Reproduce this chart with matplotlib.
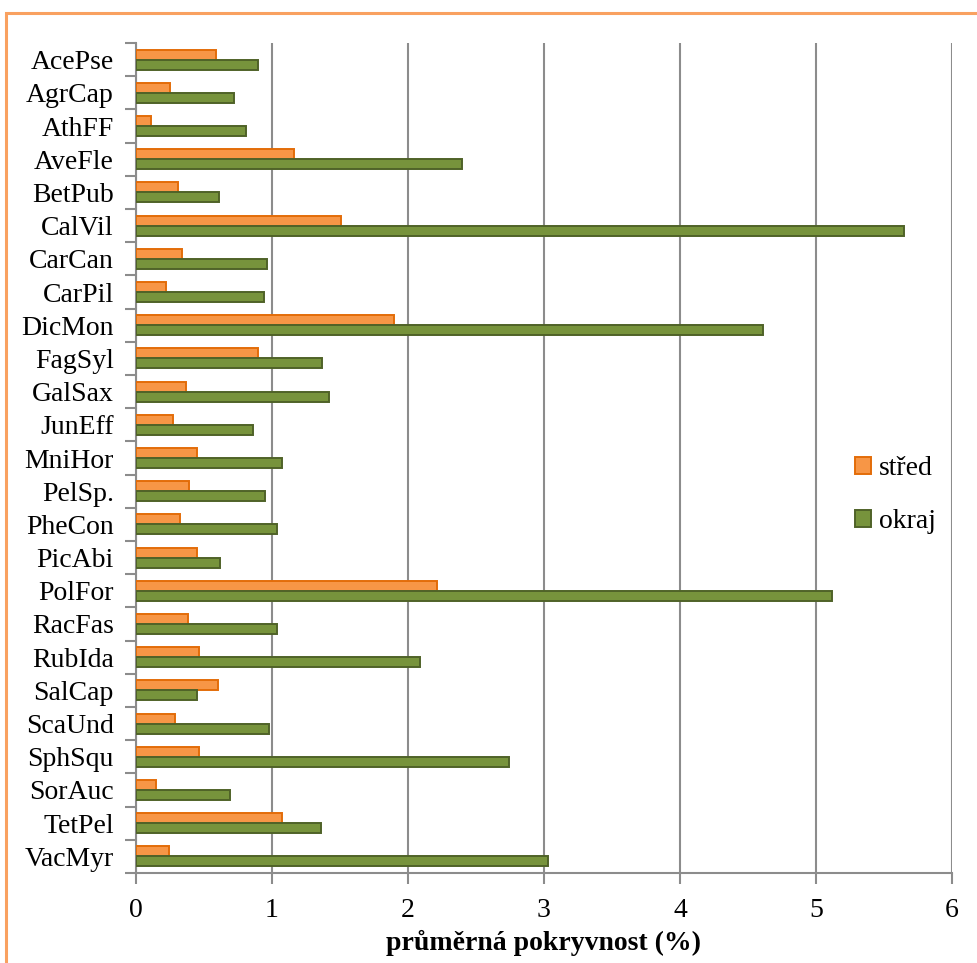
import matplotlib
matplotlib.use("Agg")
import matplotlib.pyplot as plt
import numpy as np
from matplotlib.patches import Rectangle

species = ["AcePse", "AgrCap", "AthFF", "AveFle", "BetPub", "CalVil", "CarCan",
           "CarPil", "DicMon", "FagSyl", "GalSax", "JunEff", "MniHor", "PelSp.",
           "PheCon", "PicAbi", "PolFor", "RacFas", "RubIda", "SalCap", "ScaUnd",
           "SphSqu", "SorAuc", "TetPel", "VacMyr"]
stred = [0.59, 0.25, 0.11, 1.16, 0.31, 1.51, 0.34, 0.22, 1.90, 0.90, 0.37, 0.27,
         0.45, 0.39, 0.32, 0.45, 2.21, 0.38, 0.46, 0.60, 0.29, 0.46, 0.15, 1.07, 0.24]
okraj = [0.90, 0.72, 0.81, 2.40, 0.61, 5.65, 0.96, 0.94, 4.61, 1.37, 1.42, 0.86,
         1.07, 0.95, 1.04, 0.62, 5.12, 1.04, 2.09, 0.45, 0.98, 2.74, 0.69, 1.36, 3.03]
x_ticks = [0, 1, 2, 3, 4, 5, 6]
x_label = "průměrná pokryvnost (%)"

plt.rcParams["font.family"] = ["Liberation Serif", "DejaVu Serif"]

fig = plt.figure(figsize=(9.77, 9.63), dpi=100)
ax = fig.add_axes([0.1392, 0.0935, 0.8352, 0.8618])

# orange frame around the chart area
fig.patches.append(Rectangle((6 / 977, -0.05), 1.2, 1 - 13 / 963 + 0.05,
                             transform=fig.transFigure, fill=False,
                             edgecolor="#F9A160", linewidth=2.2, zorder=0))

y = np.arange(len(species))
h = 0.3
ax.barh(y - h / 2, stred, height=h, color="#F79646", edgecolor="#E36C09",
        linewidth=1.4, label="střed", zorder=3)
ax.barh(y + h / 2, okraj, height=h, color="#77933C", edgecolor="#4F6228",
        linewidth=1.4, label="okraj", zorder=3)

ax.set_xlim(0, 6)
ax.set_ylim(len(species) - 0.5, -0.5)
ax.set_xticks(x_ticks)
ax.set_xticklabels([str(t) for t in x_ticks], fontsize=20)
ax.set_yticks(y)
ax.set_yticklabels(species, fontsize=20)
ax.set_yticks(np.arange(-0.5, len(species), 1), minor=True)
ax.tick_params(axis="y", which="major", length=0, pad=16)
ax.tick_params(axis="y", which="minor", length=8, width=1.5, color="#8C8C8C")
ax.tick_params(axis="x", length=8, width=1.5, color="#8C8C8C", pad=10)

ax.grid(axis="x", color="#8C8C8C", linewidth=1.5, zorder=0)
ax.set_axisbelow(True)
for s in ["top", "right"]:
    ax.spines[s].set_visible(False)
for s in ["left", "bottom"]:
    ax.spines[s].set_color("#8C8C8C")
    ax.spines[s].set_linewidth(1.5)

ax.set_xlabel(x_label, fontsize=20, fontweight="bold", labelpad=5)

ax.legend(loc="center left", bbox_to_anchor=(0.868, 0.455), frameon=False,
          fontsize=20, handlelength=0.55, handleheight=0.55, handletextpad=0.3,
          labelspacing=1.0, borderaxespad=0)

fig.savefig("out.png", dpi=100)
